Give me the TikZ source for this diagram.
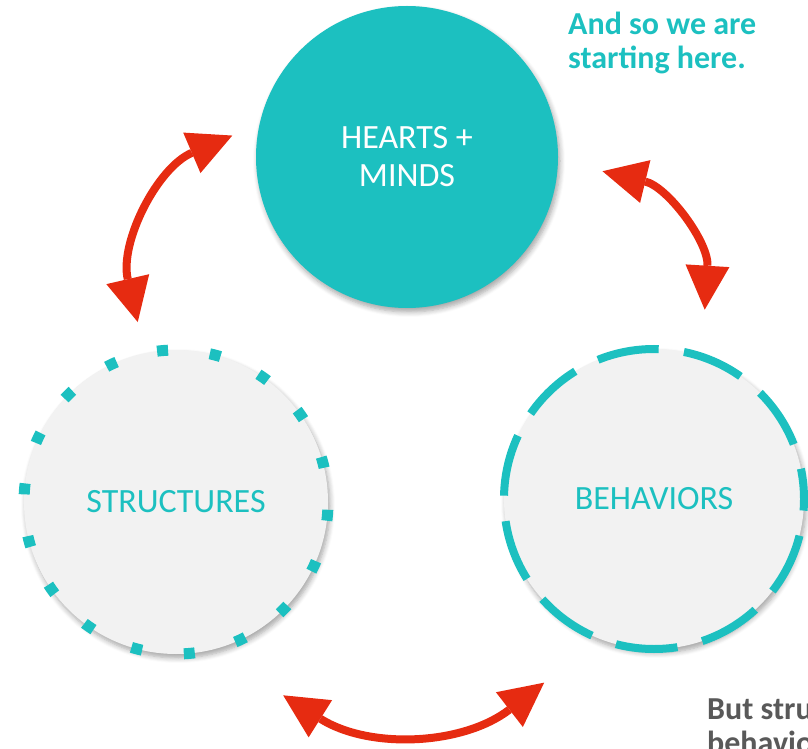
\documentclass[tikz,border=0pt]{standalone}
\usepackage{fontspec}
\setmainfont{Carlito}
\usepackage{tikz}
\usetikzlibrary{positioning}
\usetikzlibrary{arrows.meta}
\usetikzlibrary{shadows.blur}
\definecolor{cyclteal}{HTML}{1CC0C0}
\definecolor{cyclred}{HTML}{E62B11}
\definecolor{cyclpaper}{HTML}{F2F2F2}
\definecolor{cyclgray}{HTML}{595959}
\tikzset{
    ring/.style={
           circle,
           outer sep=0pt,
           inner sep=0pt,
           text=cyclteal,
           font=\fontsize{34}{38}\selectfont,
           blur shadow={shadow xshift=2pt, shadow yshift=-4pt,
                        shadow blur steps=6, shadow blur radius=5pt, shadow opacity=35},
           },
    hub/.style={
           ring,
           minimum size=302pt,
           fill=cyclteal,
           text=white,
           align=center
           },
    dotring/.style={
           ring,
           minimum size=304pt,
           fill=cyclpaper,
           draw=cyclteal, line width=11pt,
           dash pattern=on 11pt off 42.05pt, dash phase=18.5pt
           },
    dashring/.style={
           ring,
           minimum size=300pt,
           fill=cyclpaper,
           draw=cyclteal, line width=8pt,
           dash pattern=on 62pt off 25.5pt, dash phase=31.5pt
           },
    link/.style={
           <->,
           color=cyclred,
           line width=8pt
           },
    note/.style={
           font=\bfseries\fontsize{32}{34}\selectfont,
           align=left,
           anchor=north west,
           inner sep=0pt
           },
}

\begin{document}
\begin{tikzpicture}[x=1pt, y=1pt, >={Triangle[length=44pt,width=44pt,line width=0pt]}, on grid, auto]
  \useasboundingbox (0,0) rectangle (808,748);
     \node[hub]      (hm) at (407,591)                   {HEARTS +\\MINDS};
     \node[dotring]  (st) [below left=345pt and 231pt of hm]  {STRUCTURES};
     \node[dashring] (be) [below right=342pt and 247pt of hm] {BEHAVIORS};

     \node[note, text=cyclteal] (start) at (568,736) {And so we are\\starting here.};
     \node[note, text=cyclgray] (but)   at (707,49)  {But structures\\behaviors};

     % arrow ends, a little off the circles
     \coordinate (sl) at ([shift={(102:32pt)}]st.102);
     \coordinate (hl) at ([shift={(173:25pt)}]hm.173);
     \coordinate (hr) at ([shift={(-4.7:45pt)}]hm.-4.7);
     \coordinate (br) at ([shift={(75:46pt)}]be.75);
     \coordinate (sb) at ([shift={(-61:69pt)}]st.-61);
     \coordinate (bb) at ([shift={(239.4:64pt)}]be.239.4);

     \path[link]
      (sl) edge[bend left=40]  (hl)
      (hr) edge[bend left=40]  (br)
      (sb) edge[bend right=35] (bb)
      ;
\end{tikzpicture}
\end{document}
